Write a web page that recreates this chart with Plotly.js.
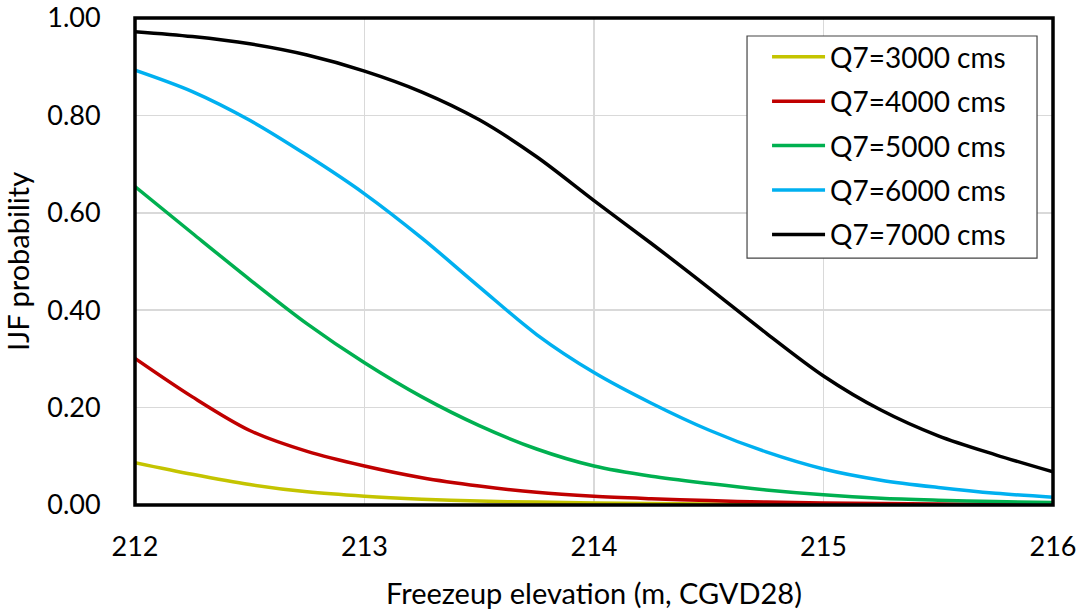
<!DOCTYPE html>
<html>
<head>
<meta charset="utf-8">
<script src="https://cdn.plot.ly/plotly-3.0.1.min.js"></script>
<style>html,body{margin:0;padding:0;background:#fff;}#chart{width:1083px;height:611px;}</style>
</head>
<body>
<div id="chart"></div>
<script>
const elevation = [212, 212.25, 212.5, 212.75, 213, 213.25, 213.5, 213.75, 214, 214.25, 214.5, 214.75, 215, 215.25, 215.5, 215.75, 216];
const seriesNames = ["Q7=3000 cms", "Q7=4000 cms", "Q7=5000 cms", "Q7=6000 cms", "Q7=7000 cms"];
const q3000 = [0.087, 0.063, 0.042, 0.027, 0.018, 0.012, 0.008, 0.006, 0.004, 0.003, 0.002, 0.0015, 0.001, 0.0008, 0.0006, 0.0004, 0.0003];
const q4000 = [0.301, 0.222, 0.153, 0.110, 0.080, 0.056, 0.039, 0.026, 0.018, 0.013, 0.009, 0.006, 0.004, 0.003, 0.002, 0.0015, 0.001];
const q5000 = [0.654, 0.558, 0.463, 0.372, 0.292, 0.222, 0.163, 0.115, 0.080, 0.059, 0.044, 0.031, 0.021, 0.014, 0.010, 0.007, 0.005];
const q6000 = [0.893, 0.849, 0.790, 0.718, 0.639, 0.548, 0.448, 0.350, 0.272, 0.209, 0.154, 0.109, 0.074, 0.051, 0.036, 0.024, 0.016];
const q7000 = [0.972, 0.962, 0.947, 0.924, 0.891, 0.848, 0.791, 0.715, 0.625, 0.537, 0.446, 0.353, 0.265, 0.195, 0.142, 0.103, 0.068];
const yTickVals = [0, 0.2, 0.4, 0.6, 0.8, 1.0];
const yTickText = ["0.00", "0.20", "0.40", "0.60", "0.80", "1.00"];
const xTickVals = [212, 213, 214, 215, 216];

const colors = ["#C4C400", "#C00000", "#00B050", "#00B0F0", "#000000"];
const values = [q3000, q4000, q5000, q6000, q7000];
const FONT = "Lato, 'Open Sans', sans-serif";

const traces = values.map((v, i) => ({
  x: elevation, y: v, name: seriesNames[i], type: "scatter", mode: "lines",
  legendgroup: "g" + i,
  line: {color: colors[i], width: 3.5, shape: "spline", smoothing: 0.9}
}));

const layout = {
  width: 1083, height: 611,
  margin: {l: 135, r: 30, t: 18, b: 106},
  paper_bgcolor: "#fff", plot_bgcolor: "#fff",
  font: {family: FONT, size: 27, color: "#000"},
  showlegend: true,
  legend: {
    x: 0.6885, y: 0.971, xanchor: "left", yanchor: "top",
    bgcolor: "rgba(0,0,0,0)", borderwidth: 0,
    font: {family: FONT, size: 28, color: "#000"},
    tracegroupgap: 5, itemwidth: 53
  },
  xaxis: {
    range: [212, 216], tickvals: xTickVals, ticktext: xTickVals.map(String),
    showgrid: true, gridcolor: "#d9d9d9", gridwidth: 1.5,
    zeroline: false, showline: false,
    ticks: "outside", ticklen: 18, tickcolor: "rgba(0,0,0,0)",
    tickfont: {family: FONT, size: 27, color: "#000"},
    title: {text: "Freezeup elevation (m, CGVD28)", font: {family: FONT, size: 29, color: "#000"}, standoff: 22}
  },
  yaxis: {
    range: [0, 1.0], tickvals: yTickVals, ticktext: yTickText,
    showgrid: true, gridcolor: "#d9d9d9", gridwidth: 1.5,
    zeroline: false, showline: false,
    ticks: "outside", ticklen: 28, tickcolor: "rgba(0,0,0,0)",
    tickfont: {family: FONT, size: 27, color: "#000"},
    title: {text: "IJF probability", font: {family: FONT, size: 29, color: "#000"}, standoff: 10}
  },
  shapes: [
    {type: "rect", xref: "paper", yref: "paper", x0: 0.6667, x1: 0.9826, y0: 0.507, y1: 0.963,
     line: {color: "#444", width: 1.2}, fillcolor: "#fff", layer: "above"},
    {type: "rect", xref: "paper", yref: "paper", x0: 0, x1: 1, y0: 0, y1: 1,
     line: {color: "#000", width: 3.5}, layer: "above"}
  ]
};

Plotly.newPlot("chart", traces, layout, {displayModeBar: false, staticPlot: true});
</script>
</body>
</html>
